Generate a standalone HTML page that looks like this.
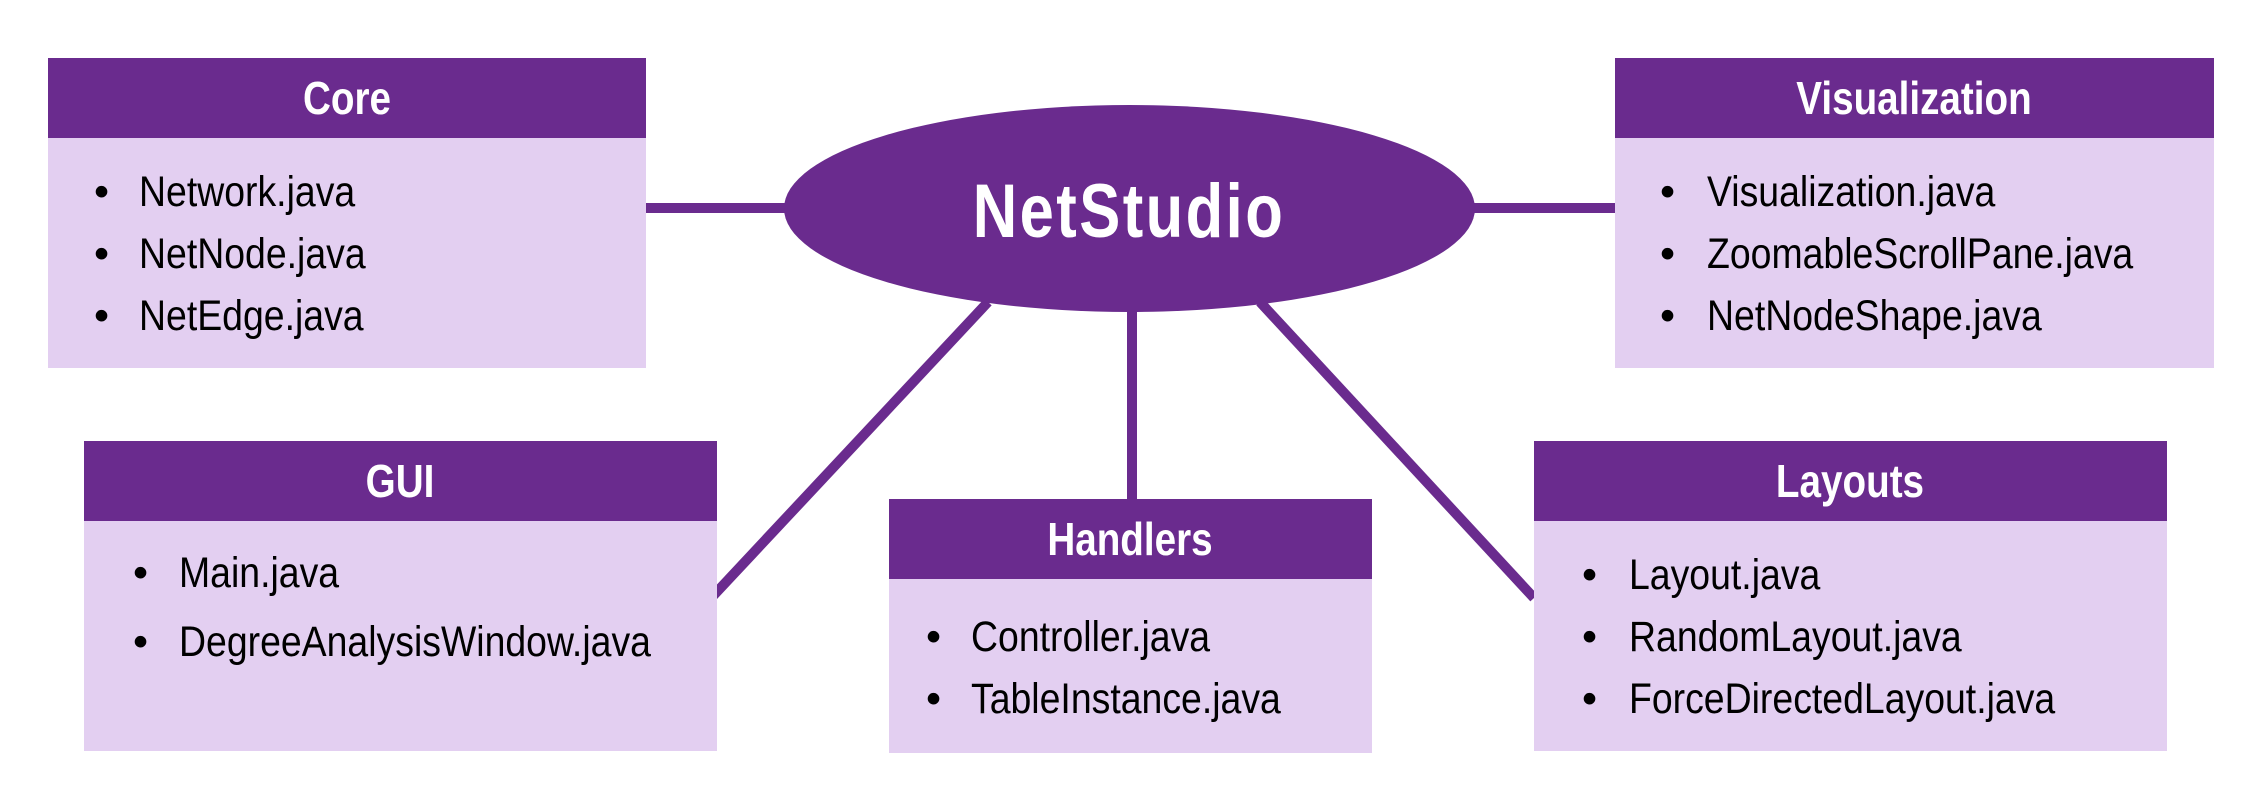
<!DOCTYPE html>
<html><head><meta charset="utf-8"><style>
html,body{margin:0;padding:0;background:#fff;}
svg{display:block;}
text{font-family:"Liberation Sans",Arial,sans-serif;}
.h{font-weight:bold;fill:#fff;font-size:46px;}
.b{font-size:43px;fill:#000;}
</style></head><body>
<svg width="2261" height="807" viewBox="0 0 2261 807" xmlns="http://www.w3.org/2000/svg">
<g stroke="#6a2b8e" stroke-width="10" fill="none">
<line x1="646" y1="208" x2="800" y2="208"/>
<line x1="1460" y1="208" x2="1615" y2="208"/>
<line x1="1132" y1="300" x2="1132" y2="500"/>
<line x1="988" y1="302" x2="713" y2="596"/>
<line x1="1260" y1="302" x2="1534" y2="598"/>
</g>
<ellipse cx="1129.5" cy="208.5" rx="345.5" ry="103.5" fill="#6a2b8e"/>
<text x="1129" y="237" text-anchor="middle" font-weight="bold" font-size="76" fill="#fff" letter-spacing="3" transform="translate(1129 0) scale(0.81 1) translate(-1129 0)">NetStudio</text>

<!-- Core -->
<rect x="48" y="58" width="598" height="80" fill="#6a2b8e"/>
<rect x="48" y="138" width="598" height="230" fill="#e3cff1"/>
<text class="h" x="347" y="114" text-anchor="middle" transform="translate(347 0) scale(0.84 1) translate(-347 0)">Core</text>
<g class="b"><text x="94" y="206">•</text><text x="94" y="268">•</text><text x="94" y="330">•</text></g>
<g class="b" transform="translate(139 0) scale(0.87 1)"><text x="0" y="206">Network.java</text><text x="0" y="268">NetNode.java</text><text x="0" y="330">NetEdge.java</text></g>

<!-- Visualization -->
<rect x="1615" y="58" width="599" height="80" fill="#6a2b8e"/>
<rect x="1615" y="138" width="599" height="230" fill="#e3cff1"/>
<text class="h" x="1914" y="114" text-anchor="middle" transform="translate(1914 0) scale(0.84 1) translate(-1914 0)">Visualization</text>
<g class="b"><text x="1660" y="206">•</text><text x="1660" y="268">•</text><text x="1660" y="330">•</text></g>
<g class="b" transform="translate(1707 0) scale(0.87 1)"><text x="0" y="206">Visualization.java</text><text x="0" y="268">ZoomableScrollPane.java</text><text x="0" y="330">NetNodeShape.java</text></g>

<!-- GUI -->
<rect x="84" y="441" width="633" height="80" fill="#6a2b8e"/>
<rect x="84" y="521" width="633" height="230" fill="#e3cff1"/>
<text class="h" x="400" y="497" text-anchor="middle" transform="translate(400 0) scale(0.84 1) translate(-400 0)">GUI</text>
<g class="b"><text x="133" y="587">•</text><text x="133" y="656">•</text></g>
<g class="b" transform="translate(179 0) scale(0.87 1)"><text x="0" y="587">Main.java</text><text x="0" y="656">DegreeAnalysisWindow.java</text></g>

<!-- Handlers -->
<rect x="889" y="499" width="483" height="80" fill="#6a2b8e"/>
<rect x="889" y="579" width="483" height="174" fill="#e3cff1"/>
<text class="h" x="1130" y="555" text-anchor="middle" transform="translate(1130 0) scale(0.84 1) translate(-1130 0)">Handlers</text>
<g class="b"><text x="926" y="651">•</text><text x="926" y="713">•</text></g>
<g class="b" transform="translate(971 0) scale(0.87 1)"><text x="0" y="651">Controller.java</text><text x="0" y="713">TableInstance.java</text></g>

<!-- Layouts -->
<rect x="1534" y="441" width="633" height="80" fill="#6a2b8e"/>
<rect x="1534" y="521" width="633" height="230" fill="#e3cff1"/>
<text class="h" x="1850" y="497" text-anchor="middle" transform="translate(1850 0) scale(0.84 1) translate(-1850 0)">Layouts</text>
<g class="b"><text x="1582" y="589">•</text><text x="1582" y="651">•</text><text x="1582" y="713">•</text></g>
<g class="b" transform="translate(1629 0) scale(0.87 1)"><text x="0" y="589">Layout.java</text><text x="0" y="651">RandomLayout.java</text><text x="0" y="713">ForceDirectedLayout.java</text></g>
</svg>
</body></html>
